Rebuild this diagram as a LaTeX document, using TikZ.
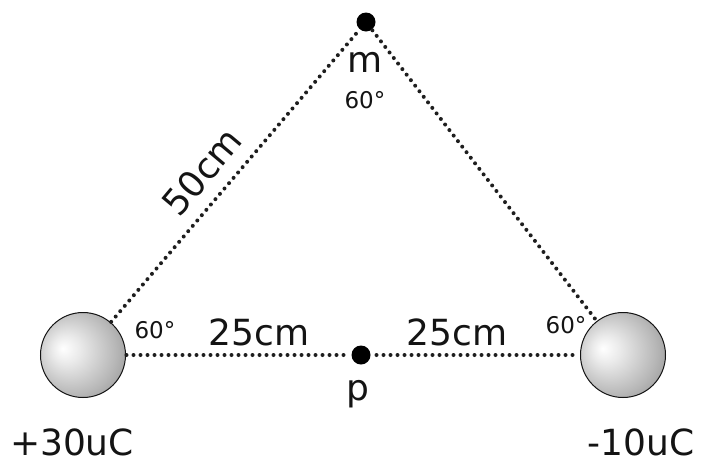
\documentclass[tikz,border=0pt]{standalone}
\usepackage{fontspec}
\setmainfont{DejaVu Sans}
\usetikzlibrary{positioning}
\definecolor{DotGrey}{RGB}{30, 30, 30}
\definecolor{InkBlack}{RGB}{20, 20, 20}
\pgfdeclareradialshading{sphere}{\pgfpoint{-12bp}{4bp}}{%
  color(0bp)=(white); color(8bp)=(black!8); color(25bp)=(black!28);
  color(40bp)=(black!48); color(50bp)=(black!60)}

\begin{document}
\begin{tikzpicture}[x=1pt, y=-1pt,
  charge/.style={%
    circle, draw=InkBlack, line width=1pt,
    shading=sphere,
    minimum size=85pt, inner sep=0pt, outer sep=1pt},
  spot/.style={circle, fill=black, minimum size=19pt, inner sep=0pt, outer sep=6pt},
  dotline/.style={line width=4pt, line cap=round, dash pattern=on 0pt off 7pt, color=DotGrey},
  lbl/.style={font=\fontsize{36}{40}\selectfont, text=InkBlack, anchor=base, inner sep=0pt},
  ang/.style={font=\fontsize{23}{26}\selectfont, text=InkBlack, anchor=base, inner sep=0pt}
]
\useasboundingbox (0,0) rectangle (704,464);

% charges and points
\node[charge] (qA) at (83,355) {};
\node[charge] (qB) at (623,355) {};
\node[spot, outer sep=1pt] (m) at (366,22) {};
\node[spot] (p) at (361,355) {};

% sides of the triangle
\draw[dotline] (qA) -- (m);
\draw[dotline] (m) -- (qB);
\draw[dotline] (qA) -- (p);
\draw[dotline] (p) -- (qB);

% labels
\node[lbl] (mlbl) at (365,72) {m};
\node[lbl] (plbl) at (358,400) {p};
\node[lbl] (lenL) at (259,345) {25cm};
\node[lbl] (lenR) at (457,345) {25cm};
\node[lbl, anchor=center, rotate=50] (lenS) at (202,172) {50cm};
\node[lbl] (qAlbl) at (72,455) {+30uC};
\node[lbl] (qBlbl) at (641,455) {-10uC};

% angles
\node[ang] (angM) at (365,108) {60\textdegree};
\node[ang] (angA) at (155,338) {60\textdegree};
\node[ang] (angB) at (566,333) {60\textdegree};
\end{tikzpicture}
\end{document}
